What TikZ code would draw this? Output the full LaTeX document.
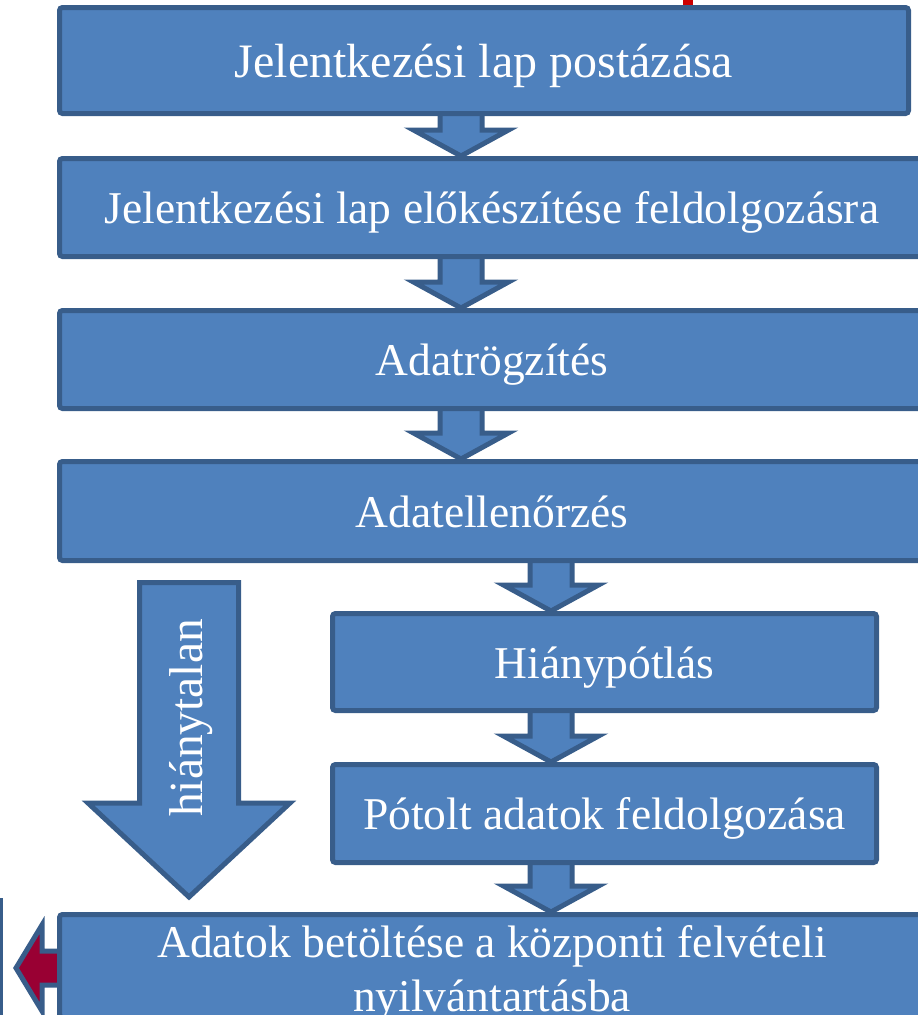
\documentclass[tikz,border=0pt]{standalone}
\usepackage{fontspec}
\setmainfont{Liberation Serif}
\usetikzlibrary{positioning, calc, backgrounds}

\definecolor{dobozkek}{HTML}{4F81BD}
\definecolor{keretkek}{HTML}{385D8A}
\definecolor{bordo}{HTML}{990033}
\definecolor{piros}{HTML}{CC0000}

% kis lefele mutato blokknyil: #1 forras, #2 cel, #3 x-koordinata
\newcommand{\kisnyil}[3]{%
  \draw[nyil] ($(#3 |- #1.south)+(-21,0)$) -- ($(#3 |- #2.north)+(-21,-26)$)
    -- ++(-26.5,0) -- (#3 |- #2.north) -- ++(47.5,-26) -- ++(-26.5,0)
    -- ($(#3 |- #1.south)+(21,0)$);}

\begin{document}
\begin{tikzpicture}[
    x=1pt, y=-1pt,
    % dobozok stilusa
    doboz/.style={draw=keretkek, fill=dobozkek, line width=5pt, rounded corners=3pt,
      text=white, font=\fontsize{45.5}{54}\selectfont, align=center, inner sep=0pt},
    egysor/.style={text height=38pt, text depth=6pt},
    % blokknyilak stilusa
    nyil/.style={draw=keretkek, fill=dobozkek, line width=5pt, line join=miter},
    szoveg/.style={text=white, font=\fontsize{47.5}{54}\selectfont, inner sep=0pt}
  ]
  \useasboundingbox (0,0) rectangle (918,1015);

  % --- felso sor ---
  \node[doboz, font=\fontsize{48}{56}\selectfont, text height=40pt, text depth=7pt,
    minimum width=849, minimum height=106] (post) at (484,60.5)
    {Jelentkezési lap postázása};
  \node[doboz, egysor, minimum width=865, minimum height=98] (eloke) at (492,207.5)
    {Jelentkezési lap előkészítése feldolgozásra};
  \node[doboz, egysor, minimum width=865, minimum height=98, below=49pt of eloke] (rogz)
    {Adatrögzítés};
  \node[doboz, egysor, minimum width=865, minimum height=99, below=48pt of rogz] (ellen)
    {Adatellenőrzés};

  % --- jobb oldali ag ---
  \node[doboz, egysor, minimum width=544, minimum height=97] (hiany) at (604.5,662)
    {Hiánypótlás};
  \node[doboz, egysor, minimum width=544, minimum height=98] (potolt) at (604.5,813.5)
    {Pótolt adatok feldolgozása};

  % --- also doboz ---
  \node[doboz, text height=96pt, text depth=6pt, minimum width=865, minimum height=103]
    (betolt) at (492,966)
    {Adatok betöltése a központi felvételi\\nyilvántartásba};

  % --- nyilak ---
  \coordinate (fx) at (461,0);
  \coordinate (ax) at (551,0);
  \coordinate (hx) at (189,0);
  \begin{scope}[on background layer]
    \kisnyil{post}{eloke}{fx}
    \kisnyil{eloke}{rogz}{fx}
    \kisnyil{rogz}{ellen}{fx}
    \kisnyil{ellen}{hiany}{ax}
    \kisnyil{hiany}{potolt}{ax}
    \kisnyil{potolt}{betolt}{ax}

    % bordo nyil balra
    \coordinate (pcsucs) at ($(betolt.west)+(-41,2)$);
    \draw[nyil, fill=bordo] (pcsucs) -- ++(26,-43) -- ++(0,26)
      -- ($(betolt.west |- pcsucs)+(5,-17)$) -- ($(betolt.west |- pcsucs)+(5,17)$)
      -- ($(pcsucs)+(26,17)$) -- ++(0,26) -- cycle;
  \end{scope}

  % nagy nyil: hianytalan
  \coordinate (htop) at ($(hx |- ellen.south)+(0,19.5)$);
  \coordinate (hcsucs) at ($(hx |- betolt.north)+(0,-15)$);
  \draw[nyil] ($(htop)+(-49.5,0)$) -- ($(hcsucs)+(-49.5,-94)$) -- ($(hcsucs)+(-101,-94)$)
    -- (hcsucs) -- ($(hcsucs)+(101,-94)$) -- ($(hcsucs)+(49.5,-94)$)
    -- ($(htop)+(49.5,0)$) -- cycle;
  \node[szoveg, rotate=90] (hlabel) at (191,718) {hiánytalan};

  % szelso maradvanyok
  \draw[keretkek, line width=3pt] (1.5,898) -- (1.5,1020);
  \fill[piros] (683,0) rectangle (693,5);
\end{tikzpicture}
\end{document}
